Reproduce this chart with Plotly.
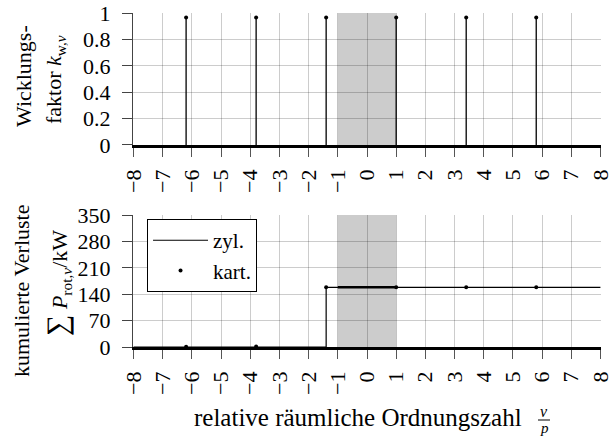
import plotly.graph_objects as go

# relative spatial orders nu/p of the winding harmonics
orders = [-6.2, -3.8, -1.4, 1.0, 3.4, 5.8]
# winding factor per order
kw = [0.966, 0.966, 0.966, 0.966, 0.966, 0.966]
# cumulative rotor losses, Cartesian model (kW)
loss_kart = [0.5, 1.5, 158.5, 158.6, 158.7, 158.8]
# cumulative rotor losses, cylindrical model (kW), step curve
zyl_x = [-8, -1.4, -1.0, 1.0, 8]
zyl_y = [0, 158.5, 158.5, 158.5, 158.5]
# fundamental band
band = [-1, 1]

x_ticks = list(range(-8, 9))
x_labels = [str(v).replace("-", "\u2212") for v in x_ticks]
y1_ticks = [0, 0.2, 0.4, 0.6, 0.8, 1]
y1_labels = ["0", "0.2", "0.4", "0.6", "0.8", "1"]
y2_ticks = [0, 70, 140, 210, 280, 350]

FONT = "'Liberation Serif', 'Times New Roman', Times, serif"
FS = 22
GRID = "rgba(0,0,0,0.2)"
R = 12
PW = 613 - 133 - R

fig = go.Figure()

# stems of the winding factor
sx, sy = [], []
for o, k in zip(orders, kw):
    sx += [o, o, None]
    sy += [0, k, None]
fig.add_trace(go.Scatter(x=sx, y=sy, mode="lines", line=dict(color="black", width=1.3),
                         showlegend=False, xaxis="x", yaxis="y", hoverinfo="skip"))
fig.add_trace(go.Scatter(x=orders, y=kw, mode="markers", marker=dict(color="black", size=4),
                         showlegend=False, xaxis="x", yaxis="y"))

# cumulative losses
fig.add_trace(go.Scatter(x=zyl_x, y=zyl_y, mode="lines", line=dict(color="black", width=1.2, shape="hv"),
                         name="zyl.", xaxis="x2", yaxis="y2"))
bx = [x for x in zyl_x if band[0] <= x <= band[1]]
by = [y for x, y in zip(zyl_x, zyl_y) if band[0] <= x <= band[1]]
fig.add_trace(go.Scatter(x=bx, y=by, mode="lines", line=dict(color="black", width=2.4),
                         showlegend=False, xaxis="x2", yaxis="y2", hoverinfo="skip"))
fig.add_trace(go.Scatter(x=orders, y=loss_kart, mode="markers", marker=dict(color="black", size=4),
                         name="kart.", xaxis="x2", yaxis="y2"))

# shaded fundamental band in both panels
for xr, yr in (("x", "y"), ("x2", "y2")):
    fig.add_shape(type="rect", xref=xr, yref=yr + " domain", x0=band[0], x1=band[1], y0=0, y1=1,
                  fillcolor="#cccccc", line=dict(width=0), layer="below")

XR = [-8.02, 8.02]
xcommon = dict(range=XR, tickmode="array", tickvals=x_ticks, ticktext=x_labels, tickangle=-90,
               showgrid=True, gridcolor=GRID, ticklabeloverflow="allow", automargin=False,
               gridwidth=1, zeroline=False, showline=True, linecolor="black", linewidth=2.5,
               ticks="outside", ticklen=9, tickcolor="#555", tickwidth=1, ticklabelstandoff=4,
               tickfont=dict(family=FONT, size=FS, color="black"))
ycommon = dict(showgrid=True, gridcolor=GRID, gridwidth=1, zeroline=False, showline=True,
               automargin=False,
               linecolor="#444", linewidth=1, ticks="outside", ticklen=10, tickcolor="#444",
               tickwidth=1, ticklabelstandoff=7, tickfont=dict(family=FONT, size=FS, color="black"))

fig.update_layout(
    width=613, height=439,
    margin=dict(l=133, r=R, t=13, b=92),
    paper_bgcolor="white", plot_bgcolor="white",
    font=dict(family=FONT, size=FS, color="black"),
    xaxis=dict(**xcommon, anchor="y", domain=[0, 1]),
    yaxis=dict(**ycommon, range=[0, 1.0005], tickvals=y1_ticks, ticktext=y1_labels, domain=[0.605, 1]),
    xaxis2=dict(**xcommon, anchor="y2", domain=[0, 1]),
    yaxis2=dict(**ycommon, range=[0, 350.2], tickvals=y2_ticks, domain=[0, 0.395]),
    legend=dict(x=0.03, y=0.383, xanchor="left", yanchor="top", bordercolor="black", borderwidth=1,
                bgcolor="white", font=dict(family=FONT, size=21), tracegroupgap=0, itemwidth=55),
    showlegend=True,
)

def px_x(p):
    return (p - 133) / PW

def px_y(p):
    return (439 - 92 - p) / 334

ann = [
    dict(text="Wicklungs-", x=px_x(23), y=px_y(76)),
    dict(text="faktor <i>k</i><sub>w,<i>ν</i></sub>", x=px_x(55), y=px_y(80)),
    dict(text="kumulierte Verluste", x=px_x(21), y=px_y(291)),
    dict(text="<span style='font-size:30px'>∑</span> <i>P</i><sub>rot,<i>ν</i></sub>/kW", x=px_x(57), y=px_y(283)),
]
for a in ann:
    fig.add_annotation(text=a["text"], x=a["x"], y=a["y"], xref="paper", yref="paper",
                       textangle=-90, showarrow=False, xanchor="center", yanchor="middle",
                       font=dict(family=FONT, size=FS))

fig.add_annotation(text="relative räumliche Ordnungszahl", x=px_x(358), y=px_y(417), xref="paper",
                   yref="paper", showarrow=False, xanchor="center", yanchor="middle",
                   font=dict(family=FONT, size=25))
fig.add_annotation(text="<i>ν</i>", x=px_x(544), y=px_y(411), xref="paper", yref="paper",
                   showarrow=False, xanchor="center", yanchor="middle", font=dict(family=FONT, size=16))
fig.add_annotation(text="<i>p</i>", x=px_x(544), y=px_y(428), xref="paper", yref="paper",
                   showarrow=False, xanchor="center", yanchor="middle", font=dict(family=FONT, size=15))
fig.add_shape(type="line", xref="paper", yref="paper", x0=px_x(538), x1=px_x(550),
              y0=px_y(420), y1=px_y(420), line=dict(color="black", width=1))

fig.write_html("out.html")
